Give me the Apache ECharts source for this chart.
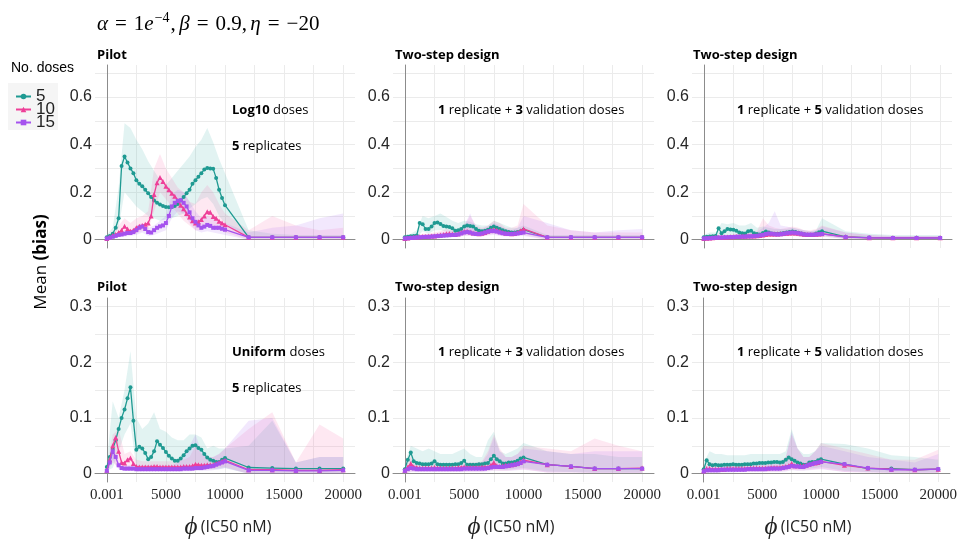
<!DOCTYPE html>
<html>
<head>
<meta charset="utf-8">
<script src="https://cdn.jsdelivr.net/npm/echarts@6/dist/echarts.min.js"></script>
<style>
  html, body { margin: 0; padding: 0; background: #ffffff; }
  #chart { width: 960px; height: 539px; }
</style>
</head>
<body>
<div id="chart"></div>
<script>
// ---- x grids -------------------------------------------------------------
const XS = [0.001,250,500,750,1000,1250,1500,1750,2000,2250,2500,2750,3000,3250,3500,3750,4000,4250,4500,4750,5000,5250,5500,5750,6000,6250,6500,6750,7000,7250,7500,7750,8000,8250,8500,8750,9000,9250,9500,9750,10000,12000,14000,16000,18000,20000];
const BAND_XS = [0.001,500,1000,1500,2000,2500,3000,3500,4000,4500,5000,5500,6000,6500,7000,7500,8000,8500,9000,9500,10000,12000,14000,16000,18000,20000];

const SERIES_NAMES = ['5', '10', '15'];
const X_TICK_LABELS = [0.001, 5000, 10000, 15000, 20000];
const X_GRID_VALUES = [0,2500,5000,7500,10000,12500,15000,17500,20000];
const Y_TOP_LABELS = [0, 0.2, 0.4, 0.6];
const Y_TOP_GRID = [0, 0.1, 0.2, 0.3, 0.4, 0.5, 0.6, 0.7];
const Y_BOT_LABELS = [0, 0.1, 0.2, 0.3];
const Y_BOT_GRID = [0, 0.05, 0.1, 0.15, 0.2, 0.25, 0.3];

// ---- Pilot, Log10 doses (mean bias) ---------------------------------------
const A5  = [0.01,0.015,0.025,0.05,0.09, 0.31,0.35,0.325,0.30,0.28, 0.25,0.235,0.225,0.21,0.195, 0.18,0.165,0.155,0.148,0.142, 0.138,0.136,0.137,0.142,0.15, 0.165,0.18,0.195,0.21,0.235, 0.25,0.265,0.28,0.295,0.302, 0.30,0.298,0.26,0.21,0.175, 0.145, 0.01,0.01,0.01,0.01,0.01];
const A10 = [0.005,0.01,0.018,0.022,0.03, 0.04,0.056,0.045,0.035,0.04, 0.05,0.056,0.06,0.065,0.07, 0.1,0.19,0.24,0.262,0.245, 0.225,0.21,0.195,0.183,0.165, 0.145,0.13,0.11,0.095,0.08, 0.07,0.075,0.085,0.1,0.118, 0.115,0.098,0.09,0.078,0.07, 0.063, 0.01,0.01,0.01,0.01,0.01];
const A15 = [0.005,0.008,0.012,0.016,0.02, 0.022,0.025,0.028,0.028,0.032, 0.04,0.05,0.055,0.045,0.032, 0.03,0.04,0.05,0.056,0.06, 0.07,0.1,0.14,0.155,0.163, 0.166,0.155,0.14,0.115,0.09, 0.075,0.06,0.05,0.055,0.062, 0.058,0.05,0.05,0.05,0.046, 0.042, 0.01,0.01,0.01,0.01,0.01];
const A5_HI  = [0.02,0.05,0.22,0.49,0.47,0.42,0.38,0.33,0.29,0.25,0.23,0.26,0.29,0.32,0.35,0.39,0.42,0.47,0.41,0.34,0.28,0.04,0.025,0.02,0.02,0.02];
const A5_LO  = [0.005,0.01,0.05,0.2,0.17,0.14,0.12,0.1,0.09,0.08,0.085,0.09,0.1,0.11,0.13,0.15,0.17,0.18,0.15,0.1,0.07,0.005,0.005,0.005,0.005,0.005];
const A10_HI = [0.01,0.03,0.06,0.09,0.07,0.09,0.1,0.12,0.3,0.36,0.3,0.26,0.22,0.2,0.16,0.15,0.2,0.23,0.2,0.15,0.11,0.04,0.1,0.06,0.04,0.05];
const A10_LO = [0,0.01,0.015,0.03,0.02,0.03,0.035,0.04,0.12,0.2,0.17,0.14,0.11,0.08,0.06,0.04,0.04,0.06,0.05,0.04,0.03,0,0,0,0,0];
const A15_HI = [0.01,0.02,0.03,0.04,0.04,0.06,0.07,0.05,0.06,0.08,0.1,0.19,0.21,0.2,0.16,0.12,0.09,0.1,0.09,0.08,0.07,0.03,0.05,0.06,0.09,0.11];
const A15_LO = [0,0.005,0.01,0.012,0.015,0.02,0.03,0.015,0.02,0.03,0.04,0.09,0.12,0.11,0.07,0.04,0.03,0.035,0.03,0.025,0.02,0,0,0,0,0];

// ---- Two-step, 1 replicate + 3 validation doses (top) ---------------------
const B5  = [0.01,0.012,0.014,0.015,0.018, 0.07,0.065,0.045,0.045,0.055, 0.07,0.072,0.066,0.058,0.055, 0.053,0.048,0.038,0.04,0.045, 0.055,0.06,0.058,0.055,0.045, 0.038,0.036,0.038,0.042,0.05, 0.055,0.05,0.045,0.04,0.035, 0.032,0.03,0.03,0.032,0.036, 0.042, 0.01,0.01,0.01,0.01,0.01];
const B10 = [0.005,0.007,0.009,0.01,0.011, 0.012,0.013,0.013,0.014,0.015, 0.016,0.018,0.02,0.022,0.025, 0.026,0.024,0.022,0.025,0.03, 0.034,0.035,0.032,0.028,0.026, 0.025,0.027,0.03,0.035,0.04, 0.042,0.04,0.035,0.03,0.027, 0.026,0.025,0.026,0.03,0.038, 0.045, 0.01,0.01,0.01,0.01,0.01];
const B15 = [0.005,0.006,0.007,0.008,0.009, 0.01,0.011,0.012,0.012,0.013, 0.014,0.015,0.016,0.017,0.018, 0.019,0.02,0.02,0.022,0.026, 0.03,0.032,0.03,0.026,0.024, 0.024,0.026,0.03,0.034,0.036, 0.036,0.034,0.03,0.027,0.025, 0.024,0.024,0.025,0.026,0.028, 0.03, 0.01,0.01,0.01,0.01,0.01];
const B5_HI  = [0.02,0.025,0.04,0.1,0.09,0.1,0.11,0.095,0.08,0.07,0.08,0.075,0.065,0.06,0.06,0.08,0.07,0.06,0.05,0.05,0.06,0.02,0.02,0.02,0.02,0.02];
const B5_LO  = [0.005,0.008,0.01,0.035,0.025,0.04,0.04,0.035,0.03,0.02,0.035,0.035,0.025,0.02,0.025,0.035,0.025,0.02,0.018,0.02,0.025,0.005,0.005,0.005,0.005,0.005];
const B10_HI = [0.01,0.015,0.02,0.025,0.025,0.03,0.035,0.045,0.04,0.045,0.06,0.1,0.06,0.05,0.06,0.08,0.07,0.05,0.05,0.06,0.15,0.06,0.04,0.03,0.03,0.03];
const B10_LO = [0,0.004,0.005,0.006,0.007,0.008,0.01,0.012,0.012,0.013,0.018,0.02,0.015,0.014,0.02,0.025,0.02,0.015,0.014,0.016,0.02,0,0,0,0,0];
const B15_HI = [0.01,0.012,0.015,0.02,0.022,0.025,0.03,0.035,0.035,0.04,0.06,0.11,0.05,0.045,0.055,0.07,0.06,0.045,0.04,0.05,0.1,0.07,0.04,0.03,0.04,0.045];
const B15_LO = [0,0.003,0.004,0.005,0.006,0.007,0.008,0.009,0.01,0.011,0.015,0.016,0.013,0.013,0.018,0.02,0.016,0.013,0.013,0.014,0.015,0,0,0,0,0];

// ---- Two-step, 1 replicate + 5 validation doses (top) ---------------------
const C5  = [0.01,0.012,0.013,0.014,0.016, 0.048,0.027,0.035,0.045,0.043, 0.042,0.038,0.03,0.027,0.026, 0.035,0.038,0.027,0.024,0.022, 0.028,0.034,0.03,0.026,0.025, 0.025,0.026,0.028,0.03,0.032, 0.034,0.032,0.029,0.026,0.023, 0.021,0.021,0.021,0.026,0.031, 0.036, 0.012,0.009,0.008,0.008,0.008];
const C10 = [0.005,0.006,0.007,0.008,0.009, 0.01,0.01,0.011,0.011,0.012, 0.012,0.013,0.013,0.014,0.014, 0.015,0.015,0.016,0.017,0.018, 0.02,0.022,0.024,0.024,0.024, 0.024,0.025,0.026,0.027,0.028, 0.029,0.028,0.027,0.025,0.023, 0.022,0.022,0.022,0.023,0.024, 0.025, 0.012,0.008,0.008,0.008,0.008];
const C15 = [0.005,0.006,0.006,0.007,0.008, 0.009,0.009,0.01,0.01,0.011, 0.011,0.012,0.012,0.013,0.013, 0.014,0.014,0.015,0.016,0.018, 0.02,0.024,0.026,0.025,0.023, 0.022,0.023,0.025,0.027,0.029, 0.03,0.029,0.027,0.025,0.022, 0.021,0.021,0.021,0.022,0.023, 0.024, 0.011,0.008,0.007,0.007,0.007];
const C5_HI  = [0.02,0.03,0.03,0.07,0.065,0.07,0.06,0.06,0.07,0.05,0.055,0.05,0.045,0.045,0.045,0.05,0.045,0.04,0.035,0.04,0.09,0.035,0.025,0.02,0.02,0.02];
const C5_LO  = [0.005,0.007,0.008,0.015,0.02,0.02,0.015,0.014,0.018,0.012,0.015,0.015,0.013,0.014,0.015,0.017,0.014,0.012,0.011,0.013,0.018,0.004,0.003,0.003,0.003,0.003];
const C10_HI = [0.01,0.012,0.015,0.018,0.02,0.022,0.025,0.028,0.03,0.035,0.09,0.06,0.05,0.045,0.05,0.055,0.05,0.04,0.04,0.045,0.06,0.03,0.02,0.015,0.015,0.015];
const C10_LO = [0,0.003,0.004,0.005,0.005,0.006,0.007,0.008,0.008,0.009,0.012,0.014,0.013,0.013,0.015,0.016,0.014,0.012,0.012,0.013,0.014,0.003,0.002,0.002,0.002,0.002];
const C15_HI = [0.01,0.012,0.014,0.016,0.018,0.02,0.022,0.025,0.028,0.032,0.05,0.07,0.12,0.06,0.055,0.05,0.045,0.04,0.035,0.04,0.055,0.03,0.02,0.015,0.015,0.015];
const C15_LO = [0,0.003,0.003,0.004,0.004,0.005,0.006,0.007,0.007,0.008,0.01,0.013,0.014,0.013,0.014,0.015,0.014,0.012,0.011,0.012,0.013,0.003,0.002,0.002,0.002,0.002];

// ---- Pilot, Uniform doses --------------------------------------------------
const D5  = [0.012,0.03,0.044,0.06,0.08, 0.1,0.115,0.135,0.155,0.095, 0.043,0.048,0.045,0.037,0.026, 0.03,0.04,0.058,0.052,0.046, 0.039,0.032,0.027,0.023,0.023, 0.027,0.033,0.04,0.045,0.05, 0.051,0.046,0.043,0.035,0.029, 0.025,0.023,0.021,0.021,0.025, 0.028, 0.011,0.01,0.009,0.009,0.009];
const D10 = [0.006,0.025,0.05,0.065,0.04, 0.02,0.019,0.025,0.028,0.018, 0.013,0.012,0.012,0.012,0.012, 0.012,0.013,0.013,0.012,0.012, 0.012,0.012,0.012,0.012,0.012, 0.012,0.013,0.013,0.013,0.014, 0.017,0.016,0.015,0.015,0.016, 0.016,0.016,0.018,0.02,0.022, 0.024, 0.007,0.007,0.006,0.006,0.007];
const D15 = [0.005,0.02,0.04,0.03,0.015, 0.01,0.009,0.009,0.009,0.009, 0.008,0.008,0.008,0.008,0.008, 0.008,0.008,0.008,0.008,0.008, 0.008,0.008,0.008,0.008,0.008, 0.008,0.009,0.009,0.009,0.009, 0.01,0.01,0.01,0.011,0.012, 0.013,0.014,0.016,0.018,0.02, 0.022, 0.006,0.006,0.005,0.005,0.006];
const D5_HI  = [0.02,0.13,0.1,0.15,0.22,0.1,0.08,0.09,0.11,0.08,0.075,0.065,0.06,0.06,0.07,0.07,0.065,0.045,0.05,0.045,0.045,0.05,0.095,0.02,0.03,0.03];
const D5_LO  = [0.005,0.01,0.04,0.07,0.09,0.01,0.015,0.01,0.015,0.015,0.012,0.01,0.008,0.01,0.015,0.02,0.015,0.01,0.008,0.008,0.01,0,0,0,0,0];
const D10_HI = [0.01,0.07,0.08,0.035,0.04,0.025,0.022,0.022,0.022,0.022,0.022,0.022,0.022,0.025,0.03,0.05,0.035,0.03,0.03,0.035,0.045,0.08,0.11,0.02,0.088,0.063];
const D10_LO = [0,0.02,0.01,0.008,0.012,0.006,0.006,0.006,0.006,0.006,0.006,0.006,0.006,0.006,0.006,0.007,0.007,0.007,0.008,0.01,0.012,0,0,0,0,0];
const D15_HI = [0.01,0.05,0.02,0.015,0.015,0.015,0.015,0.015,0.015,0.015,0.015,0.015,0.02,0.03,0.05,0.07,0.04,0.03,0.03,0.035,0.045,0.095,0.1,0.02,0.03,0.03];
const D15_LO = [0,0.025,0.008,0.005,0.005,0.004,0.004,0.004,0.004,0.004,0.004,0.004,0.004,0.004,0.004,0.005,0.005,0.005,0.006,0.008,0.01,0,0,0,0,0];

// ---- Two-step, 1 replicate + 3 validation doses (bottom) ------------------
const E5  = [0.008,0.025,0.038,0.022,0.019, 0.018,0.017,0.017,0.017,0.018, 0.022,0.017,0.016,0.016,0.016, 0.016,0.016,0.017,0.017,0.019, 0.023,0.016,0.016,0.016,0.016, 0.017,0.017,0.018,0.019,0.026, 0.032,0.026,0.022,0.018,0.018, 0.02,0.02,0.021,0.023,0.027, 0.029, 0.016,0.013,0.009,0.009,0.009];
const E10 = [0.006,0.012,0.018,0.012,0.011, 0.01,0.01,0.01,0.01,0.01, 0.011,0.01,0.01,0.01,0.01, 0.01,0.01,0.01,0.011,0.011, 0.012,0.011,0.011,0.011,0.011, 0.011,0.012,0.012,0.012,0.015, 0.02,0.014,0.013,0.014,0.015, 0.015,0.016,0.017,0.018,0.021, 0.024, 0.016,0.013,0.009,0.009,0.01];
const E15 = [0.005,0.008,0.01,0.009,0.008, 0.008,0.008,0.008,0.008,0.008, 0.008,0.008,0.008,0.008,0.008, 0.008,0.008,0.008,0.008,0.008, 0.009,0.009,0.009,0.009,0.009, 0.009,0.009,0.009,0.01,0.011, 0.012,0.012,0.012,0.012,0.013, 0.014,0.015,0.016,0.017,0.019, 0.022, 0.016,0.013,0.009,0.009,0.009];
const E5_HI  = [0.02,0.05,0.045,0.04,0.045,0.04,0.035,0.035,0.035,0.04,0.045,0.035,0.03,0.03,0.06,0.075,0.04,0.035,0.04,0.045,0.055,0.04,0.035,0.035,0.03,0.03];
const E5_LO  = [0.004,0.01,0.008,0.006,0.007,0.006,0.006,0.006,0.006,0.006,0.007,0.006,0.006,0.006,0.008,0.01,0.008,0.007,0.008,0.009,0.01,0.004,0.003,0.002,0.002,0.002];
const E10_HI = [0.01,0.03,0.02,0.018,0.018,0.018,0.018,0.018,0.018,0.018,0.02,0.02,0.02,0.022,0.04,0.07,0.045,0.03,0.03,0.035,0.05,0.045,0.04,0.063,0.05,0.04];
const E10_LO = [0,0.004,0.004,0.004,0.004,0.004,0.004,0.004,0.004,0.004,0.004,0.004,0.004,0.004,0.005,0.006,0.005,0.005,0.006,0.007,0.008,0.002,0.002,0.001,0.001,0.001];
const E15_HI = [0.01,0.018,0.015,0.015,0.015,0.015,0.015,0.015,0.015,0.015,0.016,0.016,0.016,0.02,0.035,0.065,0.04,0.03,0.03,0.035,0.045,0.04,0.035,0.04,0.04,0.04];
const E15_LO = [0,0.003,0.003,0.003,0.003,0.003,0.003,0.003,0.003,0.003,0.003,0.003,0.003,0.003,0.004,0.005,0.005,0.005,0.005,0.006,0.007,0.002,0.002,0.001,0.001,0.001];

// ---- Two-step, 1 replicate + 5 validation doses (bottom) ------------------
const F5  = [0.008,0.024,0.017,0.015,0.016, 0.015,0.015,0.016,0.016,0.016, 0.017,0.016,0.016,0.016,0.017, 0.017,0.017,0.018,0.018,0.019, 0.019,0.019,0.02,0.02,0.021, 0.021,0.02,0.021,0.025,0.029, 0.026,0.023,0.02,0.018,0.016, 0.016,0.02,0.021,0.021,0.024, 0.026, 0.017,0.009,0.009,0.007,0.008];
const F10 = [0.005,0.009,0.009,0.008,0.008, 0.008,0.008,0.008,0.009,0.009, 0.009,0.009,0.009,0.009,0.009, 0.009,0.01,0.01,0.01,0.01, 0.01,0.01,0.01,0.011,0.011, 0.011,0.011,0.012,0.013,0.014, 0.018,0.014,0.014,0.014,0.014, 0.015,0.017,0.018,0.019,0.02, 0.022, 0.015,0.01,0.008,0.007,0.008];
const F15 = [0.004,0.006,0.006,0.006,0.006, 0.006,0.007,0.007,0.007,0.007, 0.007,0.007,0.007,0.007,0.007, 0.008,0.008,0.008,0.008,0.008, 0.008,0.008,0.009,0.009,0.009, 0.009,0.009,0.01,0.011,0.012, 0.014,0.013,0.013,0.012,0.012, 0.014,0.016,0.017,0.019,0.02, 0.021, 0.017,0.01,0.007,0.007,0.008];
const F5_HI  = [0.02,0.04,0.035,0.035,0.033,0.033,0.033,0.033,0.035,0.035,0.035,0.035,0.035,0.035,0.04,0.08,0.045,0.035,0.035,0.04,0.055,0.053,0.045,0.033,0.03,0.025];
const F5_LO  = [0.004,0.008,0.007,0.007,0.007,0.007,0.007,0.007,0.008,0.008,0.008,0.008,0.008,0.008,0.009,0.012,0.01,0.008,0.009,0.01,0.012,0.005,0.003,0.002,0.002,0.002];
const F10_HI = [0.01,0.02,0.018,0.018,0.018,0.018,0.018,0.018,0.02,0.02,0.02,0.02,0.022,0.022,0.03,0.07,0.045,0.03,0.03,0.04,0.055,0.045,0.035,0.025,0.025,0.043];
const F10_LO = [0,0.003,0.003,0.003,0.003,0.003,0.003,0.003,0.004,0.004,0.004,0.004,0.004,0.004,0.005,0.007,0.006,0.006,0.007,0.008,0.009,0.003,0.002,0.001,0.001,0.001];
const F15_HI = [0.01,0.015,0.014,0.014,0.014,0.014,0.015,0.015,0.016,0.016,0.016,0.016,0.018,0.02,0.03,0.075,0.045,0.03,0.03,0.04,0.05,0.04,0.03,0.025,0.02,0.035];
const F15_LO = [0,0.002,0.002,0.002,0.002,0.002,0.003,0.003,0.003,0.003,0.003,0.003,0.003,0.003,0.004,0.006,0.005,0.005,0.006,0.007,0.008,0.003,0.002,0.001,0.001,0.001];

// ---- assembly -------------------------------------------------------------
const PANELS = [
  { means: [A5, A10, A15], bands: [[A5_LO, A5_HI], [A10_LO, A10_HI], [A15_LO, A15_HI]] },
  { means: [B5, B10, B15], bands: [[B5_LO, B5_HI], [B10_LO, B10_HI], [B15_LO, B15_HI]] },
  { means: [C5, C10, C15], bands: [[C5_LO, C5_HI], [C10_LO, C10_HI], [C15_LO, C15_HI]] },
  { means: [D5, D10, D15], bands: [[D5_LO, D5_HI], [D10_LO, D10_HI], [D15_LO, D15_HI]] },
  { means: [E5, E10, E15], bands: [[E5_LO, E5_HI], [E10_LO, E10_HI], [E15_LO, E15_HI]] },
  { means: [F5, F10, F15], bands: [[F5_LO, F5_HI], [F10_LO, F10_HI], [F15_LO, F15_HI]] }
];

// grid boxes: left, top, width, height
const CELLS = [[95,65,260,183],[393,65,261,183],[692,65,260,183],[95,298,260,184],[393,298,261,184],[692,298,260,184]];
const LINE_COLORS = ['#1f9a92', '#ee3f98', '#a552ee'];
const BAND_COLORS = ['rgba(60,175,165,0.15)', 'rgba(245,100,170,0.15)', 'rgba(170,100,240,0.15)'];
const SYMBOLS = ['circle', 'triangle', 'rect'];
const SYMBOL_SIZES = [4, 5, 4];
const GRID_COLOR = '#ebebeb';
const AXIS_COLOR = '#8c8c8c';
const TICK_FONT = 'Liberation Sans';
const TEXT_FONT = 'Open Sans';

const grid = CELLS.map(c => ({ left: c[0], top: c[1], width: c[2], height: c[3], containLabel: false }));

const xAxis = CELLS.map((c, i) => ({
  type: 'value', gridIndex: i, min: -1000, max: 21000,
  axisLine: { show: true, lineStyle: { color: AXIS_COLOR, width: 1 } },
  axisTick: { show: false, customValues: X_GRID_VALUES },
  splitLine: { show: true, lineStyle: { color: GRID_COLOR, width: 1 } },
  axisLabel: {
    show: i >= 3, customValues: X_TICK_LABELS, margin: 6,
    fontFamily: 'Liberation Sans Narrow', fontSize: 15, color: '#262626',
    formatter: v => String(v)
  }
}));

const yAxis = CELLS.map((c, i) => {
  const top = i < 3;
  return {
    type: 'value', gridIndex: i,
    min: top ? -0.035 : -0.015, max: top ? 0.735 : 0.315,
    axisLine: { show: true, lineStyle: { color: AXIS_COLOR, width: 1 } },
    axisTick: { show: false, customValues: top ? Y_TOP_GRID : Y_BOT_GRID },
    splitLine: { show: true, lineStyle: { color: GRID_COLOR, width: 1 } },
    axisLabel: {
      show: true, customValues: top ? Y_TOP_LABELS : Y_BOT_LABELS, margin: 3,
      fontFamily: TICK_FONT, fontSize: 16, color: '#262626',
      formatter: v => (v === 0 ? '0' : String(v))
    }
  };
});

const series = [];
PANELS.forEach((panel, p) => {
  panel.bands.forEach((band, k) => {
    const lo = band[0], hi = band[1];
    series.push({
      type: 'custom', name: SERIES_NAMES[k] + ' band', xAxisIndex: p, yAxisIndex: p,
      silent: true, clip: false, z: 1,
      data: [[BAND_XS[0], lo[0]]],
      renderItem: (params, api) => {
        const upper = BAND_XS.map((x, i) => api.coord([x, hi[i]]));
        const lower = BAND_XS.map((x, i) => api.coord([x, lo[i]])).reverse();
        return { type: 'polygon', shape: { points: upper.concat(lower) }, style: { fill: BAND_COLORS[k] } };
      }
    });
  });
  panel.means.forEach((vals, k) => {
    series.push({
      type: 'line', name: SERIES_NAMES[k], xAxisIndex: p, yAxisIndex: p, z: 3 + k,
      data: XS.map((x, i) => [x, vals[i]]),
      symbol: SYMBOLS[k], symbolSize: SYMBOL_SIZES[k], showSymbol: true,
      itemStyle: { color: LINE_COLORS[k] },
      lineStyle: { color: LINE_COLORS[k], width: 1.3 },
      emphasis: { disabled: true }
    });
  });
});

// panel headings and notes
const headings = [
  ['Pilot', 97, 55], ['Two-step design', 395, 55], ['Two-step design', 693, 55],
  ['Pilot', 97, 287], ['Two-step design', 395, 287], ['Two-step design', 693, 287]
];
const notes = [
  ['{b|Log10} doses', 232, 110], ['{b|5} replicates', 232, 146],
  ['{b|1} replicate + {b|3} validation doses', 438, 110],
  ['{b|1} replicate + {b|5} validation doses', 737, 110],
  ['{b|Uniform} doses', 232, 352], ['{b|5} replicates', 232, 388],
  ['{b|1} replicate + {b|3} validation doses', 438, 352],
  ['{b|1} replicate + {b|5} validation doses', 737, 352]
];
const axisTitles = [[228, 527], [511, 527], [808, 527]];

const graphic = [];
graphic.push({
  type: 'rect', silent: true, z: 50,
  shape: { x: 8, y: 83, width: 50, height: 47 },
  style: { fill: '#f5f5f5' }
});
headings.forEach(h => graphic.push({
  type: 'text', x: h[1], y: h[2], silent: true, z: 100,
  style: { text: h[0], fontFamily: TEXT_FONT, fontWeight: 'bold', fontSize: 13, fill: '#000', verticalAlign: 'middle' }
}));
notes.forEach(n => graphic.push({
  type: 'text', x: n[1], y: n[2], silent: true, z: 100,
  style: {
    text: n[0], fontFamily: TEXT_FONT, fontSize: 13, fill: '#000', verticalAlign: 'middle',
    rich: { b: { fontFamily: TEXT_FONT, fontSize: 13, fontWeight: 'bold', fill: '#000' } }
  }
}));
axisTitles.forEach(a => graphic.push({
  type: 'text', x: a[0], y: a[1], silent: true, z: 100,
  style: {
    text: '{phi|ϕ} {t|(IC50 nM)}', align: 'center', verticalAlign: 'middle',
    rich: {
      phi: { fontFamily: 'Liberation Serif', fontStyle: 'italic', fontSize: 25, fill: '#222' },
      t: { fontFamily: TEXT_FONT, fontSize: 16, fill: '#222' }
    }
  }
}));
graphic.push({
  type: 'text', x: 41, y: 262, rotation: Math.PI / 2, silent: true, z: 100,
  style: {
    text: 'Mean {b|(bias)}', align: 'center', verticalAlign: 'middle',
    fontFamily: TEXT_FONT, fontSize: 17, fill: '#000',
    rich: { b: { fontFamily: TEXT_FONT, fontSize: 17, fontWeight: 'bold', fill: '#000' } }
  }
});
graphic.push({
  type: 'text', x: 97, y: 24, silent: true, z: 100,
  style: {
    text: '{i|α}{r|\u2004=\u20041}{i|e}{s|−4}{r|,} {i|β}{r|\u2004=\u20040.9,} {i|η}{r|\u2004=\u2004−20}',
    verticalAlign: 'middle',
    rich: {
      i: { fontFamily: 'Liberation Serif', fontStyle: 'italic', fontSize: 21, fill: '#000' },
      r: { fontFamily: 'Liberation Serif', fontSize: 21, fill: '#000' },
      s: { fontFamily: 'Liberation Serif', fontSize: 14, fill: '#000', padding: [0, 1, 12, 1] }
    }
  }
});
graphic.push({
  type: 'text', x: 11, y: 68, silent: true, z: 100,
  style: { text: 'No. doses', fontFamily: TICK_FONT, fontSize: 14, fill: '#000', verticalAlign: 'middle' }
});

const chart = echarts.init(document.getElementById('chart'), null, { renderer: 'canvas' });
chart.setOption({
  animation: false,
  backgroundColor: '#ffffff',
  grid, xAxis, yAxis, series, graphic,
  legend: {
    data: SERIES_NAMES, orient: 'vertical', left: 10, top: 83, z: 120,
    itemWidth: 15, itemHeight: 7, itemGap: -4,
    textStyle: { fontFamily: TICK_FONT, fontSize: 17, lineHeight: 15, color: '#222' },
    selectedMode: false
  },
  tooltip: { show: false }
});
</script>
</body>
</html>
